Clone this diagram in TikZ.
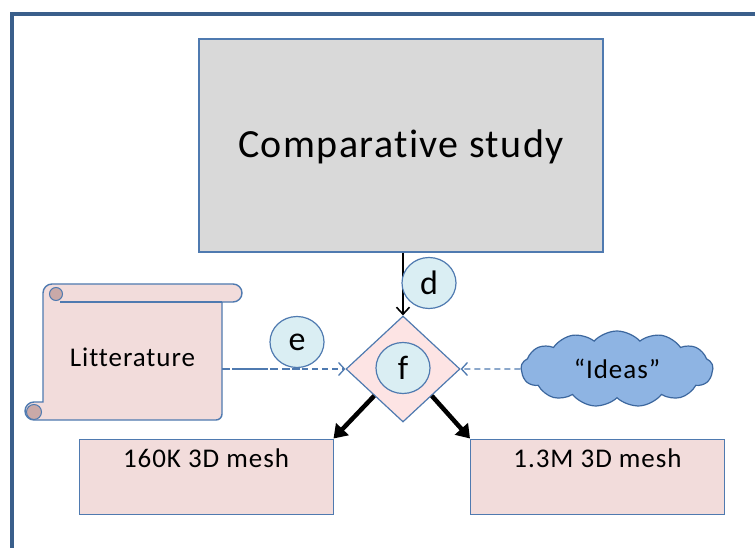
\documentclass[tikz,border=0pt]{standalone}
\usepackage{fontspec}
\setmainfont{Carlito}[Ligatures=NoCommon,LetterSpace=3.5]
\usetikzlibrary{shapes.geometric,shapes.symbols,arrows.meta}
\definecolor{frameblue}{HTML}{3A5F8B}
\definecolor{edgeblue}{HTML}{4F7AB0}
\definecolor{boxpink}{HTML}{F2DCDB}
\definecolor{diapink}{HTML}{FDE4E4}
\definecolor{curlpink}{HTML}{C9A9A8}
\definecolor{studygray}{HTML}{D9D9D9}
\definecolor{tagblue}{HTML}{DAEEF3}
\definecolor{cloudfill}{HTML}{8EB4E3}
\definecolor{cloudedge}{HTML}{3C679E}
\begin{document}
\begin{tikzpicture}[x=1pt,y=1pt,
  bodytext/.style={font=\fontsize{27}{32}\selectfont},
  meshbox/.style={draw=edgeblue,line width=1pt,fill=boxpink,inner sep=0pt,
    minimum width=254pt,text height=28pt,text depth=47pt,bodytext},
  tag/.style={ellipse,draw=edgeblue,line width=1.2pt,fill=tagblue,inner sep=0pt,
    minimum width=54pt,minimum height=51pt,font=\fontsize{34}{40}\selectfont},
  feed/.style={draw=edgeblue,line width=1.1pt,dash pattern=on 6pt off 4pt,
    -{Straight Barb[length=6pt,width=13pt,line width=1.3pt]}},
  result/.style={line width=4.5pt,-{Triangle[length=13pt,width=17pt]}}]
\useasboundingbox (0,0) rectangle (755,547);
\fill[white] (0,0) rectangle (755,547);

% page frame (only top and left edges are in view)
\begin{scope}
  \clip (0,0) rectangle (755,547);
  \draw[frameblue,line width=4.5pt] (12,-10) -- (12,533) -- (770,533);
\end{scope}

% main study box
\node[draw=edgeblue,line width=1.2pt,fill=studygray,inner sep=0pt,
  minimum width=404pt,text height=119pt,text depth=94pt,
  font=\fontsize{40}{48}\selectfont] (study) at (401,401.5) {Comparative study};

% literature scroll
\draw[edgeblue,line width=1.4pt,fill=boxpink]
  (52,263) -- (233,263) arc (90:-90:9) -- (222,245) -- (222,133)
  arc (0:-90:6) -- (34,127) arc (270:90:9) -- (43,145) -- (43,254)
  arc (180:90:9) -- cycle;
\draw[edgeblue,line width=1.2pt] (60,245) -- (222,245);
\draw[edgeblue,line width=1pt,fill=curlpink] (56,253) circle (6.5);
\draw[edgeblue,line width=1pt,fill=curlpink] (34,135) circle (7.5);
\node[inner sep=0pt,minimum width=179pt,text height=64pt,text depth=54pt,
  bodytext] (lit) at (132.5,186) {Litterature};

% decision diamond
\node[diamond,draw=edgeblue,line width=1.2pt,fill=diapink,inner sep=0pt,
  minimum width=114pt,minimum height=106pt] (choice) at (403,178) {};

% ideas cloud
\node[cloud,cloud puffs=13,cloud puff arc=95,cloud ignores aspect,
  draw=cloudedge,line width=1.2pt,fill=cloudfill,inner sep=0pt,
  minimum width=192pt,minimum height=76pt,bodytext] (ideas) at (617,178) {“Ideas”};

% mesh boxes
\node[meshbox] (m160) at (206,70.5) {160K 3D mesh};
\node[meshbox] (m13) at (597.5,70.5) {1.3M 3D mesh};

% connectors
\draw[line width=1.6pt,-{Straight Barb[length=7pt,width=13pt,line width=1.6pt]}]
  (study.south -| choice.north) -- (choice.north);
\coordinate (litend) at (300,178);
\draw[edgeblue,line width=2.6pt,dash pattern=on 8pt off 4pt]
  (lit.east |- choice.west) -- (litend);
\draw[feed] (lit.east |- choice.west) -- (choice.west);
\draw[feed] (ideas.west) -- (choice.east);
\draw[result] (choice.south west) -- (m160.north east);
\draw[result] (choice.south east) -- (m13.north west);

% step tags
\node[tag] (tagd) at (429,264) {d};
\node[tag] (tage) at (297,205) {e};
\node[tag] (tagf) at (403,179) {f};
\end{tikzpicture}
\end{document}
